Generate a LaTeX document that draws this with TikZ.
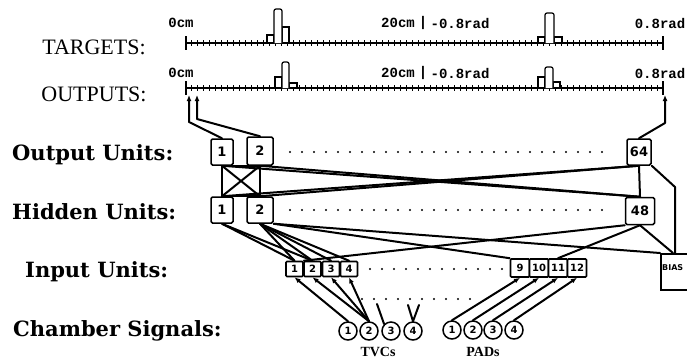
\documentclass[tikz,border=0pt]{standalone}
\usepackage{fontspec}
\setmainfont{Liberation Serif}
\newfontfamily\lblfont{DejaVu Serif}
\newfontfamily\axfont{Liberation Mono}
\newfontfamily\numfont{DejaVu Sans}
\usetikzlibrary{arrows.meta,calc}
\pgfdeclarelayer{bg}
\pgfsetlayers{bg,main}
\begin{document}
\begin{tikzpicture}[x=1pt,y=-1pt,
 conn/.style={line width=2pt, line cap=round, line join=round},
 unitbox/.style={draw, line width=1.5pt, fill=white, rounded corners=1.5pt, inner sep=0pt, font=\numfont\bfseries\fontsize{13}{13}\selectfont},
 inbox/.style={draw, line width=1.6pt, fill=white, rounded corners=1pt, inner sep=0pt, minimum width=17pt, minimum height=15pt, font=\numfont\bfseries\fontsize{10}{10}\selectfont},
 sig/.style={draw, circle, line width=1.5pt, fill=white, minimum size=18pt, inner sep=0pt, font=\numfont\bfseries\fontsize{10}{10}\selectfont},
 rowlabel/.style={font=\lblfont\bfseries\fontsize{21}{21}\selectfont, anchor=west, inner sep=0pt},
 axlabel/.style={font=\axfont\bfseries\fontsize{14}{14}\selectfont, inner sep=0pt},
 biglabel/.style={font=\fontsize{22}{22}\selectfont, inner sep=0pt},
 sublabel/.style={font=\bfseries\fontsize{14}{14}\selectfont, inner sep=0pt},
 dotrow/.style={line width=2.4pt, line cap=round, dash pattern=on 0pt off 12pt},
 tip/.style={-{Latex[length=6pt,width=5pt]}},
 bar/.style={line width=1.2pt, fill=white},
]
\useasboundingbox (0,0) rectangle (687,360);
\clip (0,0) rectangle (687,360);

% ---------- left labels ----------
\node[biglabel] (tgt) at (94,47) {TARGETS:};
\node[biglabel] (out) at (94,94) {OUTPUTS:};
\node[rowlabel] (lou) at (12,155) {Output Units:};
\node[rowlabel] (lhu) at (12,212) {Hidden Units:};
\node[rowlabel] (liu) at (25,272) {Input Units:};
\node[rowlabel] (lcs) at (13,331) {Chamber Signals:};

% ---------- axes ----------
\foreach \ya in {43,88} {
  \draw[line width=1.3pt] (186,\ya) -- (663,\ya);
  \foreach \i in {0,...,80} {
    \pgfmathsetmacro\xx{186+\i*5.9625}
    \draw[line width=1pt] (\xx,\ya-3) -- (\xx,\ya+3);
  }
  \draw[line width=1.3pt] (186,\ya-7) -- (186,\ya+7);
  \draw[line width=1.3pt] (663,\ya-7) -- (663,\ya+7);
}
% histogram bars
\draw[bar] (267,43) rectangle (274,35);
\draw[bar] (282,43) rectangle (289,27);
\draw[bar,rounded corners=2pt] (274,43) -- (274,9) -- (282,9) -- (282,43);
\draw[bar] (538,43) rectangle (545,37);
\draw[bar] (554,43) rectangle (562,37);
\draw[bar,rounded corners=2pt] (545,43) -- (545,13) -- (554,13) -- (554,43);
\draw[bar] (275,88) rectangle (282,77);
\draw[bar] (289,88) rectangle (297,83);
\draw[bar,rounded corners=2pt] (282,88) -- (282,62) -- (289,62) -- (289,88);
\draw[bar] (538,88) rectangle (545,77);
\draw[bar] (553,88) rectangle (560,82);
\draw[bar,rounded corners=2pt] (545,88) -- (545,67) -- (553,67) -- (553,88);

% axis labels
\foreach \yl/\nm in {23/a,73/b} {
  \node[axlabel] (z\nm) at (181,\yl) {0cm};
  \node[axlabel] (t\nm) at (398,\yl) {20cm};
  \node[axlabel] (s\nm) at (423,\yl) {|};
  \node[axlabel] (m\nm) at (460,\yl) {-0.8rad};
  \node[axlabel] (p\nm) at (660,\yl) {0.8rad};
}

% ---------- unit boxes ----------
\node[unitbox, minimum width=22pt, minimum height=26pt] (o1) at (222,152) {1};
\node[unitbox, minimum width=26pt, minimum height=28pt] (o2) at (260,151) {2};
\node[unitbox, minimum width=24pt, minimum height=26pt] (o64) at (639,152) {64};
\node[unitbox, minimum width=22pt, minimum height=26pt] (h1) at (222,210) {1};
\node[unitbox, minimum width=26pt, minimum height=26pt] (h2) at (260,210) {2};
\node[unitbox, minimum width=29pt, minimum height=27pt] (h48) at (640,211) {48};

\node[inbox] (i1) at (294.5,269) {1};
\node[inbox] (i2) at (312.5,269) {2};
\node[inbox] (i3) at (331,269) {3};
\node[inbox] (i4) at (349,269) {4};
\node[inbox, minimum width=19pt, minimum height=18pt] (r1) at (520,268) {9};
\node[inbox, minimum width=19pt, minimum height=18pt] (r2) at (539,268) {10};
\node[inbox, minimum width=19pt, minimum height=18pt] (r3) at (558,268) {11};
\node[inbox, minimum width=19pt, minimum height=18pt] (r4) at (577,268) {12};

\node[draw, line width=1.6pt, fill=white, anchor=north west, minimum width=45pt, minimum height=36pt, inner sep=0pt] (bias) at (660,253) {};
\node[font=\numfont\bfseries\fontsize{8}{8}\selectfont, anchor=west, inner sep=0pt] (biast) at (662,268) {BIAS};

% chamber signals
\foreach \n/\xc in {1/348,2/369,3/391,4/413} { \node[sig] (tv\n) at (\xc,331) {\n}; }
\foreach \n/\xc in {1/452,2/473,3/493,4/514} { \node[sig] (pd\n) at (\xc,330) {\n}; }
\node[sublabel] (ltvc) at (378,352) {TVCs};
\node[sublabel] (lpad) at (483,352) {PADs};

% ---------- connectors ----------
\coordinate (oa1) at (189,95);
\coordinate (oa2) at (197,95);
\coordinate (oa64) at (665,95);
\coordinate (b1) at (189,122);
\coordinate (b2) at (197,119);
\coordinate (b64) at (665,123);
\coordinate (kb) at (675,187);
\coordinate (d3) at (377,304);
\coordinate (d4a) at (408,305);
\coordinate (d4b) at (419,305);

\begin{pgfonlayer}{bg}
  % outputs to axis
  \draw[conn,tip] (o1.north) -- (b1) -- (oa1);
  \draw[conn,tip] (o2.north) -- (b2) -- (oa2);
  \draw[conn,tip] (o64.north) -- (b64) -- (oa64);
  % output <-> hidden
  \draw[conn] (o1.south) -- (h1.north);
  \draw[conn] (o2.south) -- (h2.north);
  \draw[conn] (o1.south) -- (h2.north);
  \draw[conn] (o2.south) -- (h1.north);
  \draw[conn] (o1.south) -- (o2.south);
  \draw[conn] (h1.north) -- (h2.north);
  \draw[conn] (o1.south) -- (h48.north);
  \draw[conn] (o2.south) -- (h48.north);
  \draw[conn] (h1.north) -- (o64.south);
  \draw[conn] (h2.north) -- (o64.south);
  \draw[conn] (o64.south) -- (h48.north);
  \draw[conn] (o64.south east) -- (kb) -- ($(bias.north west)+(15,0)$);
  % hidden <-> input
  \draw[conn] (h1.south) -- (i1.north);
  \draw[conn] (h1.south) -- (i2.north);
  \draw[conn] (h2.south) -- (i1.north);
  \draw[conn] (h2.south) -- (i2.north);
  \draw[conn] (h2.south) -- (i3.north);
  \draw[conn] (h2.south) -- (i4.north);
  \draw[conn] (h2.south east) -- (r1.north west);
  \draw[conn] (h2.south east) -- (bias.north west);
  \draw[conn] (i1.north east) -- (h48.south west);
  \draw[conn] (h48.south) -- (r3.north);
  \draw[conn] (h48.south) -- ($(bias.north west)+(13,0)$);
  % signals to inputs
  \draw[conn,tip] (tv1.north) -- (i1.south);
  \draw[conn,tip] (tv2.north) -- (i2.south);
  \draw[conn,tip] (tv2.north) -- (i3.south);
  \draw[conn,tip] (tv2.north) -- (i4.south);
  \draw[conn,tip] (pd1.north) -- (r1.south);
  \draw[conn,tip] (pd2.north) -- (r2.south);
  \draw[conn,tip] (pd3.north) -- (r3.south);
  \draw[conn,tip] (pd4.north) -- (r4.south);
  \draw[conn] (tv3.north west) -- (d3);
  \draw[conn] (tv4.north) -- (d4a);
  \draw[conn] (tv4.north) -- (d4b);
\end{pgfonlayer}

% dotted rows
\draw[dotrow] (290,152) -- (610,152);
\draw[dotrow] (290,210) -- (610,210);
\draw[dotrow] (370,269) -- (505,269);
\draw[dotrow] (362,299) -- (478,299);
\end{tikzpicture}
\end{document}
